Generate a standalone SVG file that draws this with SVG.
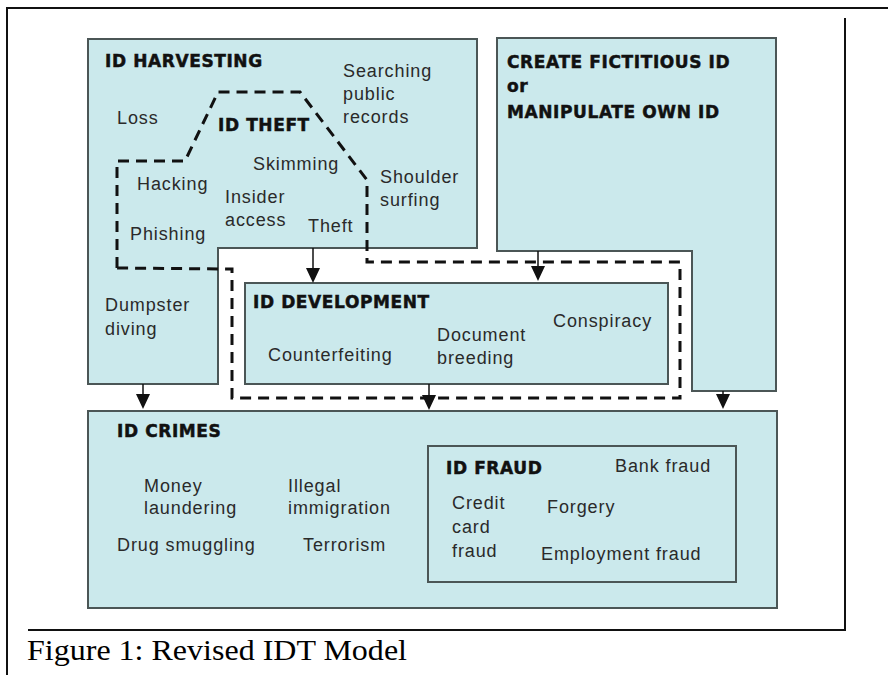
<svg xmlns="http://www.w3.org/2000/svg" width="888" height="675" viewBox="0 0 888 675">
<style>
.box{fill:#cbe9ec;stroke:#4b5656;stroke-width:2}
.hd{font-family:"DejaVu Sans",sans-serif;font-weight:bold;font-size:17px;letter-spacing:0.6px;fill:#111;stroke:#111;stroke-width:0.5}
.tx{font-family:"Liberation Sans",Arial,sans-serif;font-size:18px;letter-spacing:0.9px;fill:#2a2a2a}
.frame{stroke:#111;stroke-width:2;fill:none}
.dash{fill:none;stroke:#111;stroke-width:3;stroke-dasharray:11 7}
.ar{stroke:#111;stroke-width:1.5;fill:none}
.head{fill:#111}
.cap{font-family:"Liberation Serif","Times New Roman",serif;font-size:29px;fill:#000}
</style>
<rect x="0" y="0" width="888" height="675" fill="#fff"/>
<g id="frame">
<path class="frame" d="M7,675 V8 H888"/>
<path class="frame" d="M845,18 V630 H28"/>
</g>
<g id="id-harvesting">
<path class="box" d="M88,39 H477 V248 H218 V384 H88 Z"/>
<text class="hd" x="105" y="67">ID HARVESTING</text>
<text class="tx" x="343" y="77">Searching</text>
<text class="tx" x="343" y="100">public</text>
<text class="tx" x="343" y="123">records</text>
<text class="tx" x="117" y="124">Loss</text>
<text class="tx" x="380" y="183">Shoulder</text>
<text class="tx" x="380" y="206">surfing</text>
<text class="tx" x="105" y="311">Dumpster</text>
<text class="tx" x="105" y="335">diving</text>
</g>
<g id="create-id">
<path class="box" d="M497,38 H776 V391 H692 V251 H497 Z"/>
<text class="hd" x="507" y="68">CREATE FICTITIOUS ID</text>
<text class="hd" x="507" y="92">or</text>
<text class="hd" x="507" y="118">MANIPULATE OWN ID</text>
</g>
<g id="id-development">
<rect class="box" x="245" y="283" width="423" height="101"/>
<text class="hd" x="253" y="308">ID DEVELOPMENT</text>
<text class="tx" x="268" y="361">Counterfeiting</text>
<text class="tx" x="437" y="341">Document</text>
<text class="tx" x="437" y="364">breeding</text>
<text class="tx" x="553" y="327">Conspiracy</text>
</g>
<g id="id-crimes">
<rect class="box" x="88" y="411" width="689" height="197"/>
<text class="hd" x="117" y="437">ID CRIMES</text>
<text class="tx" x="144" y="492">Money</text>
<text class="tx" x="144" y="514">laundering</text>
<text class="tx" x="288" y="492">Illegal</text>
<text class="tx" x="288" y="514">immigration</text>
<text class="tx" x="117" y="551">Drug smuggling</text>
<text class="tx" x="303" y="551">Terrorism</text>
</g>
<g id="id-fraud">
<rect class="box" x="428" y="446" width="308" height="136"/>
<text class="hd" x="446" y="474">ID FRAUD</text>
<text class="tx" x="615" y="472">Bank fraud</text>
<text class="tx" x="452" y="509">Credit</text>
<text class="tx" x="452" y="533">card</text>
<text class="tx" x="452" y="557">fraud</text>
<text class="tx" x="547" y="513">Forgery</text>
<text class="tx" x="541" y="560">Employment fraud</text>
</g>
<g id="id-theft">
<path class="dash" d="M117,268 V161 H185 L218,92 H300 L367,180 V262 H680 V398 H232 V269 Z"/>
<text class="hd" x="218" y="131">ID THEFT</text>
<text class="tx" x="253" y="170">Skimming</text>
<text class="tx" x="137" y="190">Hacking</text>
<text class="tx" x="225" y="203">Insider</text>
<text class="tx" x="225" y="226">access</text>
<text class="tx" x="308" y="232">Theft</text>
<text class="tx" x="130" y="240">Phishing</text>
</g>
<g id="connectors">
<path class="ar" d="M313,248 V268"/><path class="head" d="M306,268 H320 L313,283 Z"/>
<path class="ar" d="M538,251 V266"/><path class="head" d="M531,266 H545 L538,281 Z"/>
<path class="ar" d="M143,384 V394"/><path class="head" d="M136,394 H150 L143,409 Z"/>
<path class="ar" d="M429,384 V395"/><path class="head" d="M422,395 H436 L429,410 Z"/>
<path class="ar" d="M723,391 V394"/><path class="head" d="M716,394 H730 L723,409 Z"/>
</g>
<text class="cap" x="27" y="660" textLength="380" lengthAdjust="spacingAndGlyphs">Figure 1: Revised IDT Model</text>
</svg>
